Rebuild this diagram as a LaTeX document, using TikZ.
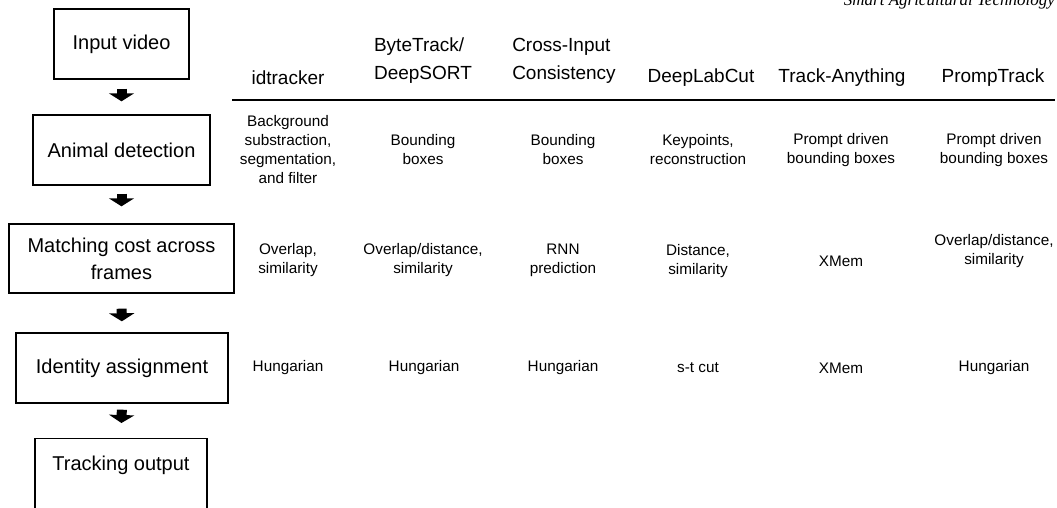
\documentclass[tikz,border=0pt]{standalone}
\usepackage{fontspec}
\setmainfont{Liberation Sans}
\newfontfamily\jfont{Liberation Serif}
\usetikzlibrary{arrows.meta}
\begin{document}
\begin{tikzpicture}[x=1pt,y=-1pt,
  stagebox/.style={draw=black,line width=1.4pt,inner sep=0pt,align=center,
    font=\fontsize{20}{27}\selectfont},
  head/.style={inner sep=0pt,font=\fontsize{19}{28}\selectfont},
  cell/.style={inner sep=0pt,align=center,font=\fontsize{15.3}{19}\selectfont},
  blockarrow/.style={line width=10pt,-{Triangle[width=25pt,length=8pt]}}]
\useasboundingbox (0,0) rectangle (1057,507);
% journal header (clipped at top)
\node[anchor=base east,inner sep=0pt,font=\jfont\itshape\fontsize{17}{20}\selectfont] (journal) at (1055,5) {Smart Agricultural Technology};
% pipeline boxes
\node[stagebox,minimum width=135pt,minimum height=70pt] (inp) at (121.5,44) {Input video};
\node[stagebox,minimum width=177pt,minimum height=70pt] (det) at (121.5,150) {Animal detection};
\node[stagebox,minimum width=225pt,minimum height=69pt] (match) at (121.5,258.5) {Matching cost across\\frames};
\node[stagebox,minimum width=212pt,minimum height=70pt] (ident) at (122,368) {Identity assignment};
\node[stagebox,minimum width=172pt,minimum height=70pt,text height=15pt,text depth=21pt,anchor=north] (out) at (121,438) {Tracking output};
% arrows
\draw[blockarrow,shorten <=9pt,shorten >=13pt] (inp.south) -- (det.north);
\draw[blockarrow,shorten <=8pt,shorten >=17pt] (det.south) -- (match.north);
\draw[blockarrow,shorten <=15pt,shorten >=11pt] (match.south) -- (ident.north);
\draw[blockarrow,shorten <=6pt,shorten >=15pt] (ident.south) -- (out.north);
% table header
\node[head] (h1) at (288,78) {idtracker};
\node[head,align=left] (h2) at (423,61) {ByteTrack/\\DeepSORT};
\node[head,align=left] (h3) at (564,61) {Cross-Input\\Consistency};
\node[head] (h4) at (701,78) {DeepLabCut};
\node[head] (h5) at (842,78) {Track-Anything};
\node[head] (h6) at (993,78) {PrompTrack};
\coordinate (rl) at (232,100);
\coordinate (rr) at (1055,100);
\draw[line width=2pt] (rl) -- (rr);
% row 1
\node[cell] (r1c1) at (288,150) {Background\\substraction,\\segmentation,\\and filter};
\node[cell] (r1c2) at (423,150) {Bounding\\boxes};
\node[cell] (r1c3) at (563,150) {Bounding\\boxes};
\node[cell] (r1c4) at (698,150) {Keypoints,\\reconstruction};
\node[cell] (r1c5) at (841,150) {Prompt driven\\bounding boxes};
\node[cell] (r1c6) at (994,150) {Prompt driven\\bounding boxes};
% row 2
\node[cell] (r2c1) at (288,260) {Overlap,\\similarity};
\node[cell] (r2c2) at (423,260) {Overlap/distance,\\similarity};
\node[cell] (r2c3) at (563,260) {RNN\\prediction};
\node[cell] (r2c4) at (698,261) {Distance,\\similarity};
\node[cell] (r2c5) at (841,261) {XMem};
\node[cell] (r2c6) at (994,251) {Overlap/distance,\\similarity};
% row 3
\node[cell] (r3c1) at (288,368) {Hungarian};
\node[cell] (r3c2) at (424,368) {Hungarian};
\node[cell] (r3c3) at (563,368) {Hungarian};
\node[cell] (r3c4) at (698,368) {s-t cut};
\node[cell] (r3c5) at (841,368) {XMem};
\node[cell] (r3c6) at (994,368) {Hungarian};
\end{tikzpicture}
\end{document}
